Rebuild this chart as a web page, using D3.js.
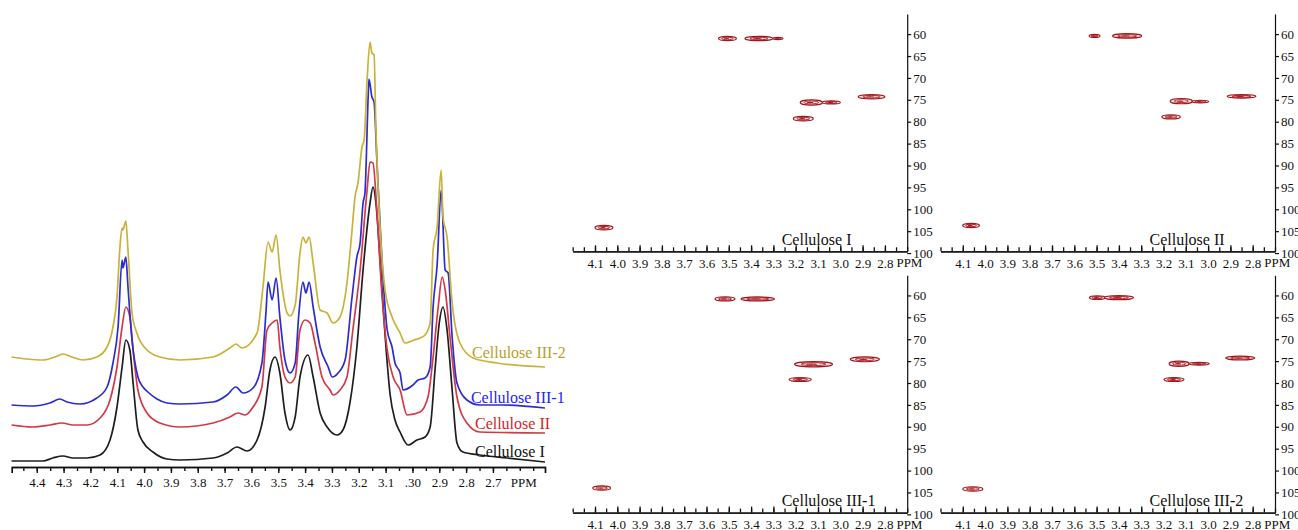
<!DOCTYPE html>
<html>
<head>
  <title>Cellulose NMR spectra</title>
  <script src="https://d3js.org/d3.v7.min.js"></script>
  <style>
    body { margin: 0; background: #fff; }
    text { font-family: "Liberation Serif", "Times New Roman", serif; }
    .tick text { font-size: 13px; fill: #111; }
    .axis path, .axis line { stroke: #111; }
  </style>
</head>
<body>
  <script>
    // 1H spectra, [ppm, stacked intensity]
    var cellI = [
      [4.494, 9], [4.377, 9], [4.340, 12], [4.302, 14], [4.265, 12], [4.213, 12], [4.164, 15],
      [4.127, 30], [4.101, 63], [4.082, 103], [4.068, 130], [4.053, 120], [4.041, 87], [4.023, 40],
      [4.004, 28], [3.967, 18], [3.915, 11], [3.866, 10], [3.743, 12], [3.691, 17], [3.654, 23],
      [3.616, 19], [3.579, 30], [3.549, 63], [3.531, 100], [3.512, 113], [3.494, 97], [3.475, 57],
      [3.456, 40], [3.437, 53], [3.419, 93], [3.389, 115], [3.370, 93], [3.344, 57], [3.318, 43],
      [3.281, 35], [3.259, 40], [3.233, 67], [3.207, 123], [3.184, 200], [3.158, 267], [3.147, 283],
      [3.136, 267], [3.120, 207], [3.102, 135], [3.083, 75], [3.065, 50], [3.046, 38], [3.016, 25],
      [2.983, 30], [2.953, 33], [2.934, 43], [2.915, 103], [2.900, 147], [2.886, 163], [2.871, 140],
      [2.852, 80], [2.834, 27], [2.812, 18], [2.749, 15], [2.647, 12], [2.506, 8]
    ];
    var cellII = [
      [4.494, 45], [4.414, 43], [4.351, 45], [4.306, 47], [4.265, 45], [4.213, 45], [4.164, 52],
      [4.127, 70], [4.101, 103], [4.082, 143], [4.068, 163], [4.053, 153], [4.041, 120], [4.023, 80],
      [3.989, 57], [3.941, 47], [3.866, 43], [3.743, 47], [3.680, 53], [3.650, 57], [3.624, 55],
      [3.594, 63], [3.561, 83], [3.542, 140], [3.523, 147], [3.504, 150], [3.494, 123], [3.475, 93],
      [3.456, 87], [3.437, 93], [3.419, 140], [3.400, 150], [3.381, 147], [3.363, 127], [3.337, 93],
      [3.307, 80], [3.296, 75], [3.270, 80], [3.244, 93], [3.222, 140], [3.195, 200], [3.169, 280],
      [3.158, 308], [3.147, 307], [3.132, 257], [3.113, 173], [3.094, 120], [3.072, 93], [3.046, 80],
      [3.020, 55], [2.972, 58], [2.942, 73], [2.923, 113], [2.904, 163], [2.889, 193], [2.878, 180],
      [2.860, 133], [2.834, 73], [2.797, 47], [2.749, 38], [2.506, 37]
    ];
    var cellIII1 = [
      [4.494, 65], [4.414, 64], [4.351, 67], [4.314, 71], [4.287, 68], [4.239, 66], [4.176, 72],
      [4.138, 83], [4.116, 107], [4.097, 143], [4.082, 210], [4.079, 202], [4.068, 213], [4.060, 183],
      [4.045, 130], [4.023, 93], [4.004, 83], [3.986, 78], [3.952, 71], [3.915, 67], [3.866, 66],
      [3.743, 68], [3.691, 75], [3.658, 83], [3.631, 77], [3.594, 82], [3.561, 107], [3.546, 157],
      [3.538, 188], [3.523, 170], [3.508, 192], [3.494, 153], [3.475, 110], [3.456, 97], [3.437, 107],
      [3.423, 157], [3.408, 188], [3.397, 177], [3.385, 188], [3.370, 163], [3.344, 123], [3.314, 103],
      [3.299, 93], [3.277, 97], [3.251, 110], [3.225, 173], [3.207, 213], [3.195, 227], [3.184, 267],
      [3.177, 277], [3.165, 373], [3.162, 391], [3.151, 373], [3.143, 368], [3.132, 307], [3.113, 207],
      [3.094, 140], [3.076, 123], [3.065, 107], [3.046, 97], [3.035, 80], [2.998, 85], [2.979, 90],
      [2.953, 92], [2.934, 103], [2.923, 163], [2.908, 205], [2.893, 280], [2.878, 200], [2.867, 197],
      [2.852, 133], [2.834, 87], [2.797, 70], [2.749, 65], [2.662, 65], [2.506, 62]
    ];
    var cellIII2 = [
      [4.494, 113], [4.437, 111], [4.377, 110], [4.332, 113], [4.302, 116], [4.269, 113], [4.228, 110],
      [4.176, 113], [4.138, 123], [4.116, 143], [4.101, 173], [4.090, 223], [4.082, 242], [4.079, 240],
      [4.068, 249], [4.060, 220], [4.045, 157], [4.027, 137], [3.989, 120], [3.941, 113], [3.866, 110],
      [3.743, 113], [3.680, 122], [3.658, 126], [3.635, 122], [3.579, 137], [3.557, 183], [3.538, 228],
      [3.523, 218], [3.508, 235], [3.494, 200], [3.467, 157], [3.456, 154], [3.437, 165], [3.419, 217],
      [3.408, 233], [3.397, 227], [3.385, 233], [3.370, 207], [3.344, 160], [3.318, 157], [3.296, 147],
      [3.270, 153], [3.244, 187], [3.225, 240], [3.214, 273], [3.203, 287], [3.188, 323], [3.180, 330],
      [3.169, 390], [3.158, 428], [3.151, 417], [3.143, 415], [3.136, 340], [3.120, 240], [3.102, 180],
      [3.076, 153], [3.046, 137], [3.028, 127], [2.994, 130], [2.972, 132], [2.953, 135], [2.934, 147],
      [2.923, 220], [2.908, 243], [2.893, 300], [2.886, 253], [2.871, 233], [2.852, 167], [2.823, 127],
      [2.774, 112], [2.685, 107], [2.506, 103]
    ];
    var seriesNames = ["Cellulose I", "Cellulose II", "Cellulose III-1", "Cellulose III-2"];

    var ppmTicks = [4.4, 4.3, 4.2, 4.1, 4.0, 3.9, 3.8, 3.7, 3.6, 3.5, 3.4, 3.3, 3.2, 3.1, 3.0, 2.9, 2.8, 2.7];
    var ppmTickLabels = ["4.4", "4.3", "4.2", "4.1", "4.0", "3.9", "3.8", "3.7", "3.6", "3.5", "3.4",
      "3.3", "3.2", "3.1", ".30", "2.9", "2.8", "2.7"];

    // HSQC cross peaks, [1H ppm, 13C ppm, 1H width, 13C width]
    var peaksI = [
      [4.06, 104.2, 0.08, 1.0], [3.506, 61.0, 0.08, 1.0], [3.365, 61.0, 0.125, 1.0], [3.28, 61.0, 0.045, 0.5],
      [3.13, 75.6, 0.10, 1.2], [3.04, 75.6, 0.08, 0.7], [3.166, 79.3, 0.09, 1.0], [2.86, 74.3, 0.12, 1.0]
    ];
    var peaksII = [
      [4.063, 103.7, 0.075, 1.0], [3.509, 60.4, 0.048, 0.7], [3.363, 60.4, 0.13, 1.0],
      [3.12, 75.3, 0.10, 1.2], [3.035, 75.4, 0.075, 0.6], [3.166, 78.9, 0.083, 0.9], [2.85, 74.2, 0.128, 0.8]
    ];
    var peaksIII1 = [
      [4.07, 104.0, 0.08, 1.0], [3.517, 60.8, 0.09, 0.9], [3.37, 60.8, 0.15, 0.9],
      [3.12, 75.7, 0.17, 1.2], [3.18, 79.2, 0.10, 0.9], [2.89, 74.6, 0.13, 1.1]
    ];
    var peaksIII2 = [
      [4.055, 104.2, 0.09, 1.0], [3.497, 60.5, 0.07, 0.8], [3.40, 60.5, 0.13, 0.9],
      [3.13, 75.6, 0.09, 1.2], [3.04, 75.6, 0.09, 0.6], [3.153, 79.2, 0.09, 0.9], [2.856, 74.3, 0.13, 0.9]
    ];

    var hsqcXTicks = [4.1, 4.0, 3.9, 3.8, 3.7, 3.6, 3.5, 3.4, 3.3, 3.2, 3.1, 3.0, 2.9, 2.8];
    var hsqcXTickLabels = ["4.1", "4.0", "3.9", "3.8", "3.7", "3.6", "3.5", "3.4", "3.3", "3.2", "3.1", "3.0", "2.9", "2.8"];
    var hsqcYTicks = [60, 65, 70, 75, 80, 85, 90, 95, 100, 105, 110];
    var hsqcYTickLabels = ["60", "65", "70", "75", "80", "85", "90", "95", "100", "105", "100"];

    var svg = d3.select("body").append("svg")
      .attr("width", 1298)
      .attr("height", 530);

    // ---------- stacked 1H spectra ----------
    var x = d3.scaleLinear().domain([4.493, 2.506]).range([11.8, 545]);
    var y = d3.scaleLinear().domain([0, 440]).range([470, 30]);
    var axisY = 467;

    var minorTicks = d3.range(89, 50, -1).map(function(i) { return i / 20; });

    svg.append("g")
      .attr("class", "axis")
      .attr("transform", "translate(0," + axisY + ")")
      .call(d3.axisBottom(x).tickValues(minorTicks).tickSizeInner(4).tickSizeOuter(6).tickFormat(""))
      .call(function(g) { g.selectAll("path, line").attr("stroke-width", 1.4); });

    svg.append("g")
      .attr("class", "axis")
      .attr("transform", "translate(0," + axisY + ")")
      .call(d3.axisBottom(x).tickValues(ppmTicks).tickSizeInner(6).tickSizeOuter(6).tickPadding(5)
        .tickFormat(function(d, i) { return ppmTickLabels[i]; }))
      .call(function(g) { g.selectAll("path, line").attr("stroke-width", 1.4); });

    svg.append("text")
      .attr("x", x(2.585))
      .attr("y", axisY + 20)
      .attr("text-anchor", "middle")
      .attr("font-size", 13)
      .attr("fill", "#111")
      .text("PPM");

    var line = d3.line()
      .x(function(d) { return x(d[0]); })
      .y(function(d) { return y(d[1]); })
      .curve(d3.curveMonotoneX);

    var spectra = [cellI, cellII, cellIII1, cellIII2];
    var lineColors = ["#1e1e1e", "#d23a48", "#2d2dcc", "#c9b23a"];
    var labelColors = ["#111111", "#d22626", "#2222ff", "#b89f28"];
    var labelAt = [[2.767, 13], [2.767, 41], [2.782, 67], [2.778, 112]];

    spectra.forEach(function(s, i) {
      svg.append("path")
        .datum(s)
        .attr("fill", "none")
        .attr("stroke", lineColors[i])
        .attr("stroke-width", 1.7)
        .attr("stroke-linejoin", "round")
        .attr("d", line);
    });

    spectra.forEach(function(s, i) {
      svg.append("text")
        .attr("x", x(labelAt[i][0]))
        .attr("y", y(labelAt[i][1]))
        .attr("font-size", 16)
        .attr("fill", labelColors[i])
        .text(seriesNames[i]);
    });

    // ---------- HSQC panels ----------
    var panels = [
      { peaks: peaksI, left: 572.7, top: 14 },
      { peaks: peaksII, left: 940.5, top: 14 },
      { peaks: peaksIII1, left: 572.7, top: 275.3 },
      { peaks: peaksIII2, left: 940.5, top: 275.3 }
    ];
    var hsqcMinor = d3.range(84, 53, -1).map(function(i) { return i / 20; });
    var peakColor = "#a3161c";

    panels.forEach(function(p, i) {
      var xs = d3.scaleLinear().domain([4.2, 2.7]).range([p.left, p.left + 334.5]);
      var ys = d3.scaleLinear().domain([55.4, 109.6]).range([p.top, p.top + 237.3]);
      var g = svg.append("g");
      var bottom = ys(109.6);

      g.append("g")
        .attr("class", "axis")
        .attr("transform", "translate(0," + bottom + ")")
        .call(d3.axisBottom(xs).tickValues(hsqcMinor).tickSizeInner(-4).tickSizeOuter(0).tickFormat(""))
        .call(function(a) { a.selectAll("path, line").attr("stroke-width", 1.3); });

      g.append("g")
        .attr("class", "axis")
        .attr("transform", "translate(0," + bottom + ")")
        .call(d3.axisBottom(xs).tickValues(hsqcXTicks).tickSizeInner(-6).tickSizeOuter(0).tickPadding(7)
          .tickFormat(function(d, k) { return hsqcXTickLabels[k]; }))
        .call(function(a) { a.selectAll("path, line").attr("stroke-width", 1.3); });

      g.append("text")
        .attr("x", xs(2.69))
        .attr("y", bottom + 16)
        .attr("text-anchor", "middle")
        .attr("font-size", 13)
        .attr("fill", "#111")
        .text("PPM");

      g.append("g")
        .attr("class", "axis")
        .attr("transform", "translate(" + xs(2.7) + ",0)")
        .call(d3.axisRight(ys).tickValues(hsqcYTicks).tickSizeInner(4).tickSizeOuter(0).tickPadding(2)
          .tickFormat(function(d, k) { return hsqcYTickLabels[k]; }))
        .call(function(a) { a.selectAll("path, line").attr("stroke-width", 1.2); });

      // contour rings for each cross peak
      p.peaks.forEach(function(pk) {
        var cx = xs(pk[0]), cy = ys(pk[1]);
        var rx = Math.abs(xs(pk[0] + pk[2] / 2) - xs(pk[0] - pk[2] / 2)) / 2;
        var ry = Math.abs(ys(pk[1] + pk[3] / 2) - ys(pk[1] - pk[3] / 2)) / 2;
        g.append("ellipse")
          .attr("cx", cx).attr("cy", cy).attr("rx", rx).attr("ry", ry)
          .attr("fill", "#fbeeee").attr("stroke", peakColor).attr("stroke-width", 1.2);
        g.append("ellipse")
          .attr("cx", cx).attr("cy", cy).attr("rx", rx * 0.65).attr("ry", ry * 0.55)
          .attr("fill", "none").attr("stroke", peakColor).attr("stroke-width", 0.9);
        g.append("ellipse")
          .attr("cx", cx - rx * 0.1).attr("cy", cy).attr("rx", rx * 0.3).attr("ry", Math.max(ry * 0.25, 0.6))
          .attr("fill", peakColor);
      });

      g.append("text")
        .attr("x", p.left + 209)
        .attr("y", p.top + 231)
        .attr("font-size", 16)
        .attr("fill", "#111")
        .text(seriesNames[i]);
    });
  </script>
</body>
</html>
